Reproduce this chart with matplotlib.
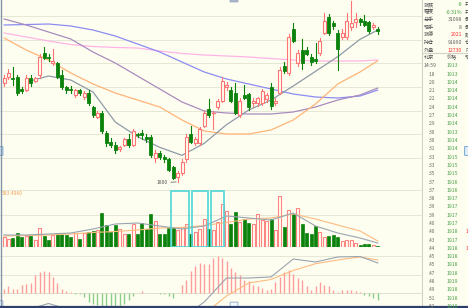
import matplotlib
matplotlib.use('Agg')
import matplotlib.pyplot as plt
from matplotlib.patches import Rectangle, FancyBboxPatch

plt.rcParams['font.family'] = ['Noto Sans CJK SC', 'DejaVu Sans']

# ---------------- data ----------------
opens  = [1874,1879,1878,1879,1870,1869,1878,1876,1880,1897,1894,1889,1889,1880,1871,1870,1865,1869,1864,1867,
          1856,1849,1852,1837,1830,1828,1825,1828,1832,1828,1836,1837,1834,1834,1818,1822,1819,1817,1811,1804,
          1807,1817,1836,1829,1829,1842,1855,1851.5,1856,1861,1871,1869,1867,1850,1865,1866,1859,1859,1859,1862,
          1871,1859,1867,1887,1882,1915,1889,1899,1899,1894,1892,1897,1912,1924,1919,1912,1909,1909,1916,1920,
          1922,1921,1920,1916,1915]
highs  = [1880,1885,1886,1880,1871,1880,1880,1879,1896,1901,1896,1900,1890,1884,1872,1872,1870,1870,1868,1869,
          1857,1853,1853,1838,1833,1830,1827,1833,1836,1840,1837,1839,1836,1835,1824,1823,1820,1818,1812,1808,
          1817,1836,1842,1834,1841,1853,1862,1853,1862,1879,1875,1871,1874,1863,1873,1867,1863,1864,1870,1867,
          1874,1863,1886,1890,1911,1919,1899,1907,1901,1896,1904,1908,1927,1926,1921,1914,1915,1927,1936,1927,
          1923,1925,1921,1919,1916]
lows   = [1872,1877,1873,1865,1867,1868,1872,1875,1878,1892,1891,1888,1878,1870,1867,1867,1864,1865,1862,1858,
          1849,1848,1837,1827,1826,1822,1823,1827,1826,1827,1834,1832,1830,1819,1815,1817,1815,1808,1802,1800,
          1805,1815,1829,1828,1828,1841,1849,1840,1855,1860,1869,1860,1851,1849,1862,1854,1857,1857,1858,1860,
          1855,1858,1866,1882,1880,1905,1887,1885,1895,1888,1889,1895,1911,1910,1915,1884,1907,1907,1914,1916,
          1918,1917,1912,1915,1911]
closes = [1878,1882,1877,1867,1868,1878,1874,1878,1894,1893,1893,1891,1879,1871,1869,1869,1869,1867,1867,1859,
          1850,1852,1838,1829,1828,1824,1826,1832,1828,1838,1835,1835,1832,1820,1822,1819,1817,1809,1803,1807,
          1815,1834,1830,1832,1840,1852,1850,1852,1861,1876,1873,1861,1852,1861,1863,1856,1861,1863,1868,1865,
          1857,1861,1884,1883,1909,1906,1897,1889,1896,1890,1891,1906,1921,1912,1917,1900,1912,1921,1919,1922,
          1920,1918,1913,1918,1913]
volumes = [1000,800,900,1400,1000,1100,1100,700,1900,1100,700,1200,1400,1300,1200,1000,1400,800,1400,1500,
           1600,1700,3400,2200,1500,2200,1800,1300,1300,2300,1300,2400,1800,3300,2600,1300,1300,1900,1900,1700,
           2000,2300,1300,1500,1800,2800,1800,1700,2500,4300,3600,2300,3500,2500,2800,2400,2300,3300,2700,2600,
           2800,1700,5100,2000,3700,3300,3900,2300,1400,1300,2100,1500,1000,1100,1200,1000,600,700,700,400,
           200,300,300,200,100]
macd_hist = [3.7,6.7,4.3,4.3,7.7,9.3,10.3,17.7,21,21.7,21,16,10.3,4.3,2,1,-0.7,-1.3,-4,-9,
             -10.7,-12.3,-13,-13,-13,-13,-13,-10.7,-6.7,-3.3,0.3,2,0.3,0.3,0.3,-0.7,-0.7,-3.3,-4.7,0.3,
             7.7,12.7,21.7,27.3,30,29.3,29.3,35,36.7,35,31.7,25,21,18.3,12.7,11.7,8.3,6.7,5,2.7,
             4,10.7,16,20.7,23.3,19,15,12.7,6.7,3.3,6.7,11,8.3,6.7,2.7,0.7,2.7,2.7,2.7,1.7,
             0.7,-1.7,-3.3,-5,-6.7]

ma_idx   = [0,5,10,15,20,25,30,35,40,45,50,55,60,65,70,75,80,84]
ma10     = [None,1875,1879.5,1876.5,1867.5,1845,1834,1826,1820,1829,1843,1854,1861.5,1872,1883,1894,1907,1914]
ma20     = [1908,1899,1891.5,1881.75,1873.5,1866.75,1861.5,1856.25,1846.5,1838.25,1836,1836,1839,1846.5,1858.5,1873.5,1882.5,1891]
ma30     = [1922.25,1917.75,1912.5,1907.25,1897.5,1889.25,1879.5,1869.75,1860,1853.25,1851.75,1851,1851,1852.5,1856.25,1861.5,1865.25,1870.5]
ma60     = [1917.75,1918.1,1918.5,1917,1914,1909.5,1903.5,1897.5,1890,1882.5,1877.25,1873.5,1869.75,1866,1863.75,1863,1864.5,1869]
ma120    = [1911.75,1908.75,1905.75,1903.1,1901.6,1900.9,1900.5,1898.25,1896.4,1895.25,1894.5,1893.75,1892.6,1891.5,1890.75,1890.75,1890.75,1891.5]
vol_ma5  = [1200,1200,1300,1400,1800,2300,2400,2100,1800,2100,3100,2900,2700,3400,2100,1400,900,400]
vol_ma10 = [1100,1150,1200,1300,1450,1550,1700,1900,1950,2150,2450,2800,2900,3300,2800,2200,1600,600]
dif      = [-22,-17,-10.5,-17,-27,-32,-35,-33,-25,-9,15,15,16,34,31,36,36.5,30]
dea      = [-25,-22,-18,-17,-20,-25,-29,-31,-30,-21,-3,10,13.5,22.5,29.3,33,36,33]
highlight_ranges = [(37.6, 41.6), (42.3, 45.8), (46.6, 49.5)]
low_label = '1800'
vol_label = '583.4080'

quote_labels = ['涨跌', '幅度', '总手', '现手', '涨停', '持仓', '外盘']
quote_values = ['-6', '-0.31%', '31098', '8', '2021', '91890', '12730']
quote_tags   = ['开', '开', '最', '最', '跌', '仓', '内']
tick_times  = ['14:59', ':18', ':20', ':21', ':22', ':24', ':27', ':29', ':30', ':30', ':31', ':33', ':33', ':35',
               ':37', ':37', ':38', ':39', ':39', ':40', ':40', ':43', ':44', ':45', ':45', ':47', ':48', ':49', ':51', ':52']
tick_prices = ['1913', '1913', '1914', '1914', '1914', '1914', '1914', '1914', '1913', '1914', '1914', '1915', '1915',
               '1915', '1916', '1916', '1917', '1917', '1917', '1917', '1918', '1917', '1918', '1918', '1918', '1918',
               '1919', '1918', '1918', '1918']
tick_flags = {20: '1', 22: '1'}

# ---------------- styling ----------------
W, H = 468, 308
BG = '#fefef0'
RED = '#ff7474'
GREEN = '#0b820b'
GRID = '#e7e7d6'
STEP, X0 = 4.45, 4.0
CR = 422  # right edge of chart area (px)

fig = plt.figure(figsize=(W / 100, H / 100), dpi=100, facecolor=BG)


def add_ax(x0, y0, x1, y1):
    ax = fig.add_axes([x0 / W, 1 - y1 / H, (x1 - x0) / W, (y1 - y0) / H])
    ax.set_facecolor('none')
    ax.set_axis_off()
    ax.set_xlim(-X0 / STEP, (x1 - X0) / STEP)
    return ax


BW = 3.0 / STEP  # body width in index units

# ---- main price panel ----
ax = add_ax(0, 0, CR, 189)
ax.set_ylim(1794.75, 1936.5)
for g in [1818, 1835.75, 1853.5, 1871.25, 1889, 1906.75, 1924.5]:
    ax.axhline(g, color=GRID, lw=0.7, zorder=0)

for nm, col in [(ma120, '#ffb4e6'), (ma60, '#8c8cf2'), (ma30, '#a88cbe'), (ma20, '#ffb478'), (ma10, '#8e9aa6')]:
    xs = [i for i, v in zip(ma_idx, nm) if v is not None]
    ys = [v for v in nm if v is not None]
    ax.plot(xs, ys, color=col, lw=0.9, zorder=2, solid_capstyle='round')

for i, (o, h, l, c) in enumerate(zip(opens, highs, lows, closes)):
    up = c >= o
    col = RED if up else GREEN
    top, bot = max(o, c), min(o, c)
    ax.plot([i, i], [top, h], color=col, lw=0.8, zorder=3)
    ax.plot([i, i], [l, bot], color=col, lw=0.8, zorder=3)
    if top - bot < 0.6:
        ax.plot([i - BW / 2, i + BW / 2], [c, c], color=col, lw=0.9, zorder=4)
    elif up:
        ax.add_patch(Rectangle((i - BW / 2, bot), BW, top - bot, facecolor=BG, edgecolor=RED, lw=0.8, zorder=4))
    else:
        ax.add_patch(Rectangle((i - BW / 2, bot), BW, top - bot, facecolor=GREEN, edgecolor=GREEN, lw=0.6, zorder=4))

li = lows.index(min(lows))
ax.annotate(low_label, xy=(li - 0.3, lows[li]), xytext=(li - 2.3, lows[li] - 0.3), fontsize=3.6,
            color='#555555', va='center', ha='right',
            arrowprops=dict(arrowstyle='-', color='#555555', lw=0.5, shrinkA=0.5, shrinkB=0))
ax.axhline(1794.9, color='#d4d4c4', lw=0.7)

# ---- volume panel ----
av = add_ax(0, 189, CR, 247)
av.set_ylim(0, 5800)
av.axhline(5700, color=GRID, lw=0.7, zorder=0)
av.axhline(3200, color=GRID, lw=0.7, zorder=0)
for i, v in enumerate(volumes):
    up = closes[i] >= opens[i]
    if up:
        av.add_patch(Rectangle((i - BW / 2, 0), BW, v, facecolor=BG, edgecolor='#ff8484', lw=0.8, zorder=3))
    else:
        av.add_patch(Rectangle((i - BW / 2, 0), BW, v, facecolor=GREEN, edgecolor=GREEN, lw=0.5, zorder=3))
av.plot(ma_idx, vol_ma10, color='#ffbb80', lw=0.8, zorder=4)
av.plot(ma_idx, vol_ma5, color='#9aa4b0', lw=0.8, zorder=4)
for a, b in highlight_ranges:
    av.add_patch(Rectangle((a, 0), b - a, 5650, facecolor='none', edgecolor='#4fd6d6', lw=1.2, zorder=5))
av.text(0.005, 0.93, vol_label, transform=av.transAxes, fontsize=3.6, color='#f5a05a', va='center', ha='left')
av.axhline(20, color='#d8d8c8', lw=0.7)

# ---- MACD panel ----
am = add_ax(0, 249, CR, 307)
am.set_ylim(-14, 44)
for g in [37, 18]:
    am.axhline(g, color=GRID, lw=0.7, zorder=0)
am.axhline(0, color='#e0e0cc', lw=0.7, zorder=0)
for i, v in enumerate(macd_hist):
    am.vlines(i, 0, v, color='#ff9c9c' if v >= 0 else '#8ccf8c', lw=1.0, zorder=2)
am.plot(ma_idx, dea, color='#ffbb80', lw=0.8, zorder=3)
am.plot(ma_idx, dif, color='#9aa4b0', lw=0.8, zorder=3)

# ---- frame pieces ----
frame = fig.add_axes([0, 0, 1, 1])
frame.set_xlim(0, W)
frame.set_ylim(H, 0)
frame.set_axis_off()
frame.set_facecolor('none')
frame.plot([0.6, 0.6], [0, H], color='#8094ac', lw=1.0)
frame.plot([CR, CR], [0, H], color='#d2d2c6', lw=0.8)
frame.plot([CR, W], [53, 53], color='#d2d2c6', lw=0.8)
frame.plot([0, W], [307.2, 307.2], color='#2e3f6e', lw=1.6)
frame.add_patch(FancyBboxPatch((0, 147), 2.5, 8, boxstyle='round,pad=0.4', facecolor='#e0eefa', edgecolor='#7aa6d0', lw=0.7))
frame.add_patch(FancyBboxPatch((465, 147), 4, 8, boxstyle='round,pad=0.4', facecolor='#e0eefa', edgecolor='#7aa6d0', lw=0.7))
frame.add_patch(FancyBboxPatch((230.5, -2), 7, 3.5, boxstyle='round,pad=0.4', facecolor='#aab8cc', edgecolor='#90a0b8', lw=0.6))
frame.add_patch(FancyBboxPatch((230.5, 302.5), 7, 4, boxstyle='round,pad=0.4', facecolor='#f4f8fc', edgecolor='#8aa8cc', lw=0.6))
frame.add_patch(FancyBboxPatch((0, 301), 2.5, 5, boxstyle='round,pad=0.4', facecolor='#f4f8fc', edgecolor='#8aa8cc', lw=0.6))

# ---- right quote panel ----
FS = 3.7
val_cols = ['#3f9f3f', '#3f9f3f', '#606060', '#606060', '#ff3030', '#606060', '#ff3030']
for k, (lab, val, tag) in enumerate(zip(quote_labels, quote_values, quote_tags)):
    y = 4.5 + k * 7.6
    frame.text(423.5, y, lab, fontsize=FS, color='#505050', va='center', ha='left')
    frame.text(462, y, val, fontsize=FS, color=val_cols[k], va='center', ha='right')
    frame.text(465, y, tag, fontsize=FS, color='#505050', va='center', ha='left')

frame.text(423.5, 57.5, '北京', fontsize=FS, color='#505050', va='center', ha='left')
frame.text(447, 57.5, '价格', fontsize=FS, color='#505050', va='center', ha='left')
frame.text(465, 57.5, '现', fontsize=FS, color='#505050', va='center', ha='left')
for k, (t, p) in enumerate(zip(tick_times, tick_prices)):
    y = 65.8 + k * 8.3
    frame.text(423.5 if k == 0 else 429, y, t, fontsize=FS if k == 0 else 3.3, color='#606060', va='center', ha='left')
    frame.text(447, y, p, fontsize=FS, color='#4aa04a', va='center', ha='left')
    if k in tick_flags:
        frame.text(465.5, y, tick_flags[k], fontsize=FS, color='#ff3030', va='center', ha='left')

fig.savefig('out.png', dpi=100, facecolor=BG)
